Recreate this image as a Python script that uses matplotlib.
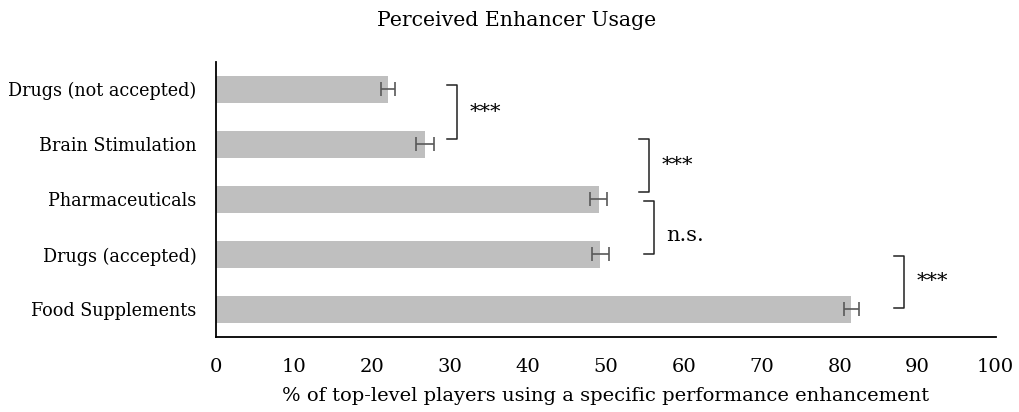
import matplotlib.pyplot as plt

plt.rcParams['font.family'] = ['DejaVu Serif']

categories = ["Food Supplements", "Drugs (accepted)", "Pharmaceuticals",
              "Brain Stimulation", "Drugs (not accepted)"]
values = [81.5, 49.3, 49.1, 26.8, 22.0]
errors = [1.0, 1.1, 1.1, 1.1, 0.9]

# significance brackets: (bottom y, top y, x position, label, label y)
brackets = [(3.09, 4.07, 30.9, "***", 3.58),
            (2.13, 3.09, 55.5, "***", 2.62),
            (1.00, 1.98, 56.2, "n.s.", 1.35),
            (0.02, 0.98, 88.3, "***", 0.51)]

fig = plt.figure(figsize=(10.19, 4.12), dpi=100)
ax = fig.add_axes([0.212, 0.182, 0.765, 0.668])

y = list(range(len(categories)))
ax.barh(y, values, height=0.5, color="#bfbfbf")
ax.errorbar(values, y, xerr=errors, fmt="none", ecolor="#595959",
            elinewidth=1.2, capsize=5, capthick=1.2)

for y0, y1, x, lab, ty in brackets:
    ax.plot([x - 1.3, x, x, x - 1.3], [y0, y0, y1, y1], color="#222222", lw=1.1)
    ax.text(x + 1.6, ty, lab, fontsize=15, va="center", ha="left")

ax.set_xlim(0, 100)
ax.set_ylim(-0.5, 4.5)
ax.set_xticks(range(0, 101, 10))
ax.set_yticks(y)
ax.set_yticklabels(categories, fontstretch="condensed")
ax.tick_params(axis="both", length=0, labelsize=14)
ax.tick_params(axis="y", pad=14)
ax.tick_params(axis="x", pad=15)
for s in ["top", "right"]:
    ax.spines[s].set_visible(False)
for s in ["left", "bottom"]:
    ax.spines[s].set_linewidth(1.3)

ax.set_xlabel("% of top-level players using a specific performance enhancement",
              fontsize=14, labelpad=8)
fig.text(0.507, 0.95, "Perceived Enhancer Usage", fontsize=14.7, ha="center", va="center")

fig.savefig("out.png", dpi=100)
